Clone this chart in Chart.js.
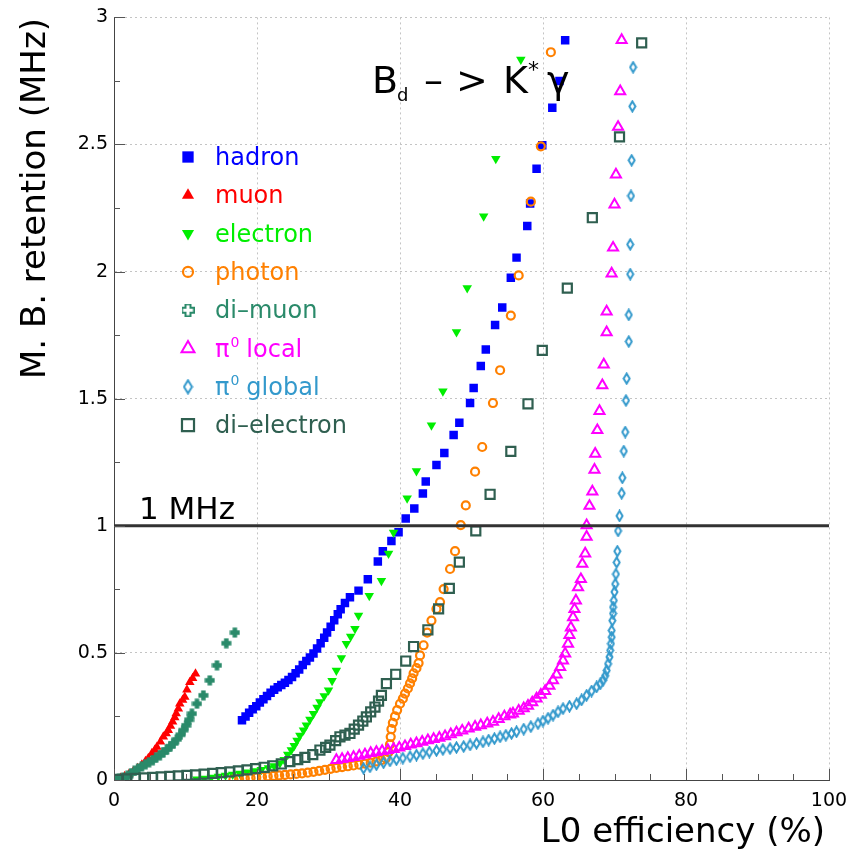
<!DOCTYPE html>
<html>
<head>
<meta charset="utf-8">
<script src="https://cdn.jsdelivr.net/npm/chart.js@4.4.1/dist/chart.umd.min.js"></script>
<style>html,body{margin:0;padding:0;background:#fff}</style>
</head>
<body>
<canvas id="c" width="864" height="857"></canvas>
<script>
// L0 efficiency (%) vs M.B. retention (MHz), pairs
const hadron = [[17.9,0.235],[18.4,0.25],[18.9,0.265],[19.4,0.278],[19.9,0.29],[20.4,0.305],[20.9,0.318],[21.4,0.33],[21.9,0.343],[22.4,0.355],[22.9,0.365],[23.4,0.374],[23.9,0.383],[24.4,0.393],[24.9,0.405],[25.4,0.42],[25.9,0.435],[26.4,0.452],[26.9,0.468],[27.4,0.482],[27.9,0.498],[28.4,0.517],[28.9,0.538],[29.4,0.56],[29.8,0.58],[30.3,0.603],[30.8,0.628],[31.3,0.652],[31.7,0.672],[32.3,0.696],[33.0,0.719],[34.2,0.745],[35.5,0.79],[36.9,0.86],[37.6,0.9],[38.8,0.94],[39.8,0.975],[40.8,1.029],[42.0,1.068],[43.2,1.127],[43.6,1.174],[45.1,1.239],[46.2,1.286],[47.5,1.357],[48.3,1.405],[49.8,1.483],[50.3,1.542],[51.3,1.629],[52.0,1.694],[53.3,1.79],[54.3,1.859],[55.5,1.976],[56.3,2.055],[57.8,2.179],[58.2,2.268],[59.1,2.405],[59.9,2.497],[61.3,2.645],[62.3,2.75],[63.1,2.91]];
const muon = [[0.3,0.002],[0.9,0.008],[1.5,0.015],[2.1,0.024],[2.7,0.034],[3.3,0.046],[3.9,0.06],[4.4,0.074],[4.8,0.086],[5.3,0.105],[5.7,0.118],[6.0,0.13],[6.5,0.15],[6.9,0.17],[7.3,0.183],[7.6,0.196],[7.9,0.212],[8.2,0.229],[8.5,0.246],[8.7,0.262],[9.0,0.28],[9.2,0.3],[9.6,0.315],[9.9,0.327],[10.2,0.355],[10.6,0.385],[11.0,0.4],[11.4,0.418]];
const electron = [[11.6,0.003],[12.6,0.006],[13.6,0.01],[14.6,0.014],[15.6,0.018],[16.6,0.022],[17.6,0.026],[18.6,0.03],[19.6,0.035],[20.6,0.04],[21.6,0.047],[22.4,0.055],[23.2,0.066],[23.8,0.08],[24.3,0.1],[24.8,0.118],[25.2,0.135],[25.6,0.155],[26.0,0.175],[26.5,0.196],[26.9,0.215],[27.4,0.238],[27.9,0.261],[28.4,0.285],[28.8,0.307],[29.4,0.33],[30.0,0.353],[30.5,0.39],[31.1,0.431],[31.8,0.48],[32.5,0.536],[33.1,0.565],[33.7,0.595],[34.2,0.647],[35.7,0.725],[37.4,0.784],[38.4,0.891],[39.1,0.974],[41.0,1.108],[42.3,1.216],[44.4,1.396],[46.0,1.529],[47.9,1.762],[49.4,1.935],[51.7,2.218],[53.4,2.444],[56.9,2.834]];
const photon = [[16.7,0.002],[17.5,0.004],[18.3,0.006],[19.1,0.008],[19.9,0.01],[20.7,0.012],[21.5,0.014],[22.3,0.016],[23.1,0.018],[23.9,0.02],[24.7,0.022],[25.5,0.024],[26.3,0.026],[27.1,0.029],[27.9,0.032],[28.7,0.036],[29.5,0.04],[30.3,0.044],[31.1,0.048],[31.9,0.051],[32.7,0.054],[33.5,0.057],[34.3,0.06],[35.1,0.064],[35.9,0.068],[36.7,0.073],[37.4,0.078],[38.0,0.085],[38.4,0.11],[38.6,0.14],[38.7,0.17],[38.8,0.2],[39.0,0.225],[39.3,0.25],[39.6,0.275],[40.0,0.3],[40.4,0.32],[40.7,0.34],[41.1,0.36],[41.4,0.38],[41.7,0.4],[41.9,0.42],[42.3,0.44],[42.6,0.46],[42.8,0.49],[43.3,0.53],[43.8,0.58],[44.4,0.627],[45.1,0.673],[45.6,0.7],[46.1,0.751],[47.0,0.83],[47.7,0.9],[48.5,1.003],[49.2,1.08],[50.5,1.213],[51.5,1.31],[53.0,1.483],[54.0,1.612],[55.5,1.827],[56.6,1.985],[58.3,2.275],[59.7,2.493],[61.1,2.863]];
const diMuon = [[0.2,0.002],[0.7,0.004],[1.3,0.008],[1.9,0.016],[2.4,0.026],[2.9,0.036],[3.4,0.045],[3.9,0.054],[4.4,0.062],[4.9,0.07],[5.4,0.078],[5.9,0.088],[6.4,0.098],[6.9,0.108],[7.4,0.12],[7.9,0.133],[8.3,0.144],[8.8,0.16],[9.3,0.178],[9.7,0.196],[10.1,0.215],[10.5,0.237],[10.9,0.261],[11.6,0.3],[12.5,0.333],[13.4,0.392],[14.4,0.451],[15.7,0.538],[16.9,0.58]];
const pi0Local = [[31.1,0.078],[31.9,0.082],[32.7,0.086],[33.5,0.09],[34.3,0.095],[35.1,0.1],[35.9,0.106],[36.7,0.11],[37.5,0.114],[38.3,0.118],[39.1,0.122],[39.9,0.127],[40.7,0.133],[41.5,0.139],[42.3,0.144],[43.1,0.15],[43.9,0.156],[44.7,0.161],[45.5,0.166],[46.3,0.172],[47.1,0.18],[47.9,0.187],[48.7,0.194],[49.6,0.202],[50.5,0.209],[51.3,0.215],[52.2,0.222],[53.0,0.229],[53.8,0.24],[54.6,0.25],[55.4,0.257],[55.8,0.261],[56.6,0.272],[57.3,0.282],[57.9,0.292],[58.5,0.305],[59.1,0.32],[59.7,0.335],[60.3,0.35],[60.9,0.37],[61.4,0.392],[61.9,0.415],[62.4,0.444],[62.8,0.47],[63.1,0.497],[63.5,0.536],[63.7,0.57],[63.9,0.6],[64.2,0.64],[64.4,0.672],[64.6,0.706],[64.9,0.758],[65.3,0.79],[65.5,0.85],[65.9,0.891],[66.1,0.957],[66.1,1.002],[66.5,1.078],[66.9,1.135],[67.2,1.22],[67.3,1.283],[67.6,1.376],[67.9,1.451],[68.3,1.553],[68.5,1.634],[68.9,1.761],[68.9,1.843],[69.6,1.992],[69.8,2.094],[70.0,2.264],[70.2,2.382],[70.5,2.569],[70.8,2.709],[71.0,2.911]];
const pi0Global = [[34.9,0.046],[35.8,0.052],[36.7,0.06],[37.7,0.068],[38.6,0.075],[39.5,0.08],[40.4,0.086],[41.4,0.092],[42.3,0.098],[43.2,0.104],[44.1,0.11],[45.1,0.116],[46.0,0.12],[47.0,0.124],[47.9,0.128],[48.9,0.132],[49.8,0.138],[50.7,0.144],[51.6,0.15],[52.4,0.157],[53.2,0.163],[54.0,0.17],[54.8,0.176],[55.6,0.183],[56.3,0.19],[57.3,0.2],[58.3,0.21],[59.3,0.222],[60.0,0.232],[60.7,0.243],[61.4,0.255],[62.1,0.268],[62.8,0.281],[63.7,0.29],[64.7,0.3],[65.4,0.315],[66.1,0.333],[66.8,0.35],[67.5,0.366],[68.0,0.378],[68.4,0.392],[68.7,0.41],[68.9,0.431],[69.1,0.457],[69.3,0.484],[69.4,0.51],[69.5,0.536],[69.6,0.562],[69.6,0.588],[69.7,0.627],[69.8,0.655],[69.8,0.68],[69.9,0.706],[70.0,0.74],[70.1,0.771],[70.2,0.81],[70.3,0.856],[70.4,0.9],[70.5,0.98],[70.7,1.039],[71.0,1.128],[71.1,1.189],[71.3,1.294],[71.5,1.369],[71.6,1.493],[71.7,1.579],[72.0,1.725],[72.0,1.83],[72.2,1.99],[72.2,2.107],[72.3,2.298],[72.4,2.438],[72.5,2.65],[72.6,2.804]];
const diElectron = [[0.6,0.002],[1.8,0.004],[3.0,0.006],[4.2,0.008],[5.4,0.01],[6.6,0.012],[7.8,0.014],[9.0,0.016],[10.2,0.018],[11.4,0.02],[12.6,0.023],[13.8,0.026],[15.0,0.029],[16.2,0.032],[17.4,0.036],[18.6,0.04],[19.8,0.045],[21.0,0.05],[22.2,0.056],[23.4,0.063],[24.6,0.072],[25.7,0.08],[26.7,0.089],[27.8,0.1],[28.8,0.118],[29.6,0.128],[30.2,0.137],[31.0,0.155],[31.6,0.17],[32.3,0.177],[33.0,0.183],[33.6,0.2],[34.2,0.216],[34.8,0.232],[35.3,0.248],[35.9,0.268],[36.5,0.287],[37.0,0.31],[37.4,0.333],[38.1,0.379],[39.4,0.416],[40.8,0.468],[41.9,0.525],[43.9,0.591],[45.4,0.673],[46.9,0.754],[48.3,0.857],[50.6,0.98],[52.6,1.124],[55.5,1.293],[57.9,1.48],[59.9,1.69],[63.4,1.935],[66.9,2.212],[70.7,2.53],[73.8,2.9]];

const seriesNames = ['hadron', 'muon', 'electron', 'photon', 'di\u2013muon', 'local', 'global', 'di\u2013electron'];
const xLabelValues = [0, 20, 40, 60, 80, 100];
const yLabelValues = [0, 0.5, 1, 1.5, 2, 2.5, 3];
const rateLimit = 1; // MHz

const FONT = '"DejaVu Sans", sans-serif';

function markerCanvas(w, h, draw) {
  const c = document.createElement('canvas');
  c.width = w; c.height = h;
  draw(c.getContext('2d'));
  return c;
}
const diamondImg = (col, w, h) => markerCanvas(w, h, g => {
  g.strokeStyle = col; g.lineWidth = 2;
  g.beginPath();
  g.moveTo(w / 2, 1.5); g.lineTo(w - 1.5, h / 2); g.lineTo(w / 2, h - 1.5); g.lineTo(1.5, h / 2);
  g.closePath(); g.stroke();
});
const plusImg = (col, s, t, open) => markerCanvas(s, s, g => {
  const a = (s - t) / 2, b = (s + t) / 2;
  g.beginPath();
  g.moveTo(a, 0.5); g.lineTo(b, 0.5); g.lineTo(b, a); g.lineTo(s - 0.5, a); g.lineTo(s - 0.5, b);
  g.lineTo(b, b); g.lineTo(b, s - 0.5); g.lineTo(a, s - 0.5); g.lineTo(a, b); g.lineTo(0.5, b);
  g.lineTo(0.5, a); g.lineTo(a, a); g.closePath();
  if (open) { g.strokeStyle = col; g.lineWidth = 2; g.stroke(); }
  else { g.fillStyle = col; g.fill(); }
});

const colors = ['#0000ff', '#ff0000', '#00ee00', '#ff8000', '#2a8a6a', '#ff00ff', '#3399cc', '#2f5f50'];
const seriesData = [hadron, muon, electron, photon, diMuon, pi0Local, pi0Global, diElectron];
const looks = [
  {style: 'rect', r: 6, bw: 0, fill: true, lr: 8},
  {style: 'triangle', r: 5.5, bw: 0, fill: true, lr: 7},
  {style: 'triangle', rot: 180, r: 5.5, bw: 0, fill: true, lr: 7},
  {style: 'circle', r: 4, bw: 2.2, fill: false, lr: 5},
  {style: plusImg(colors[4], 11, 4.5, false), r: 5, bw: 0, fill: true, legend: plusImg(colors[4], 13, 5, true)},
  {style: 'triangle', r: 5.8, bw: 2, fill: false, lr: 7.5},
  {style: diamondImg(colors[6], 9, 13), r: 5, bw: 0, fill: false, legend: diamondImg(colors[6], 11, 16)},
  {style: 'rect', r: 6.4, bw: 2.2, fill: false, lr: 8.5}
];

const datasets = seriesData.map((d, i) => ({
  label: seriesNames[i],
  data: d.map(p => ({x: p[0], y: p[1]})),
  showLine: false,
  pointStyle: looks[i].style,
  pointRotation: looks[i].rot || 0,
  pointRadius: looks[i].r,
  pointBorderWidth: looks[i].bw,
  pointBorderColor: colors[i],
  pointBackgroundColor: looks[i].fill ? colors[i] : 'rgba(0,0,0,0)',
  order: 7 - i
}));

function txt(ctx, s, x, y, size, color, align) {
  ctx.font = size + 'px ' + FONT;
  ctx.fillStyle = color;
  ctx.textAlign = align || 'left';
  ctx.textBaseline = 'alphabetic';
  ctx.fillText(s, x, y);
  return ctx.measureText(s).width;
}

const overlay = {
  id: 'overlay',
  afterDatasetsDraw(chart) {
    const {ctx, chartArea: a, scales: {y}} = chart;
    const py = y.getPixelForValue(rateLimit);
    ctx.save();
    ctx.strokeStyle = '#333'; ctx.lineWidth = 3;
    ctx.beginPath(); ctx.moveTo(a.left, py); ctx.lineTo(a.right, py); ctx.stroke();
    txt(ctx, '1 MHz', 139, py - 7, 31, '#000');
    ctx.restore();
  },
  afterDraw(chart) {
    const {ctx, chartArea: a, scales: {x, y}} = chart;
    ctx.save();
    // inward tick marks
    ctx.strokeStyle = '#555'; ctx.lineWidth = 1;
    x.ticks.forEach(t => {
      const px = Math.round(x.getPixelForValue(t.value)) + 0.5;
      const len = xLabelValues.includes(t.value) ? 11 : 6;
      ctx.beginPath(); ctx.moveTo(px, a.bottom); ctx.lineTo(px, a.bottom - len); ctx.stroke();
    });
    y.ticks.forEach(t => {
      const py = Math.round(y.getPixelForValue(t.value)) + 0.5;
      const len = yLabelValues.includes(t.value) ? 11 : 6;
      ctx.beginPath(); ctx.moveTo(a.left, py); ctx.lineTo(a.left + len, py); ctx.stroke();
    });
    // axis titles
    txt(ctx, 'L0 efficiency (%)', 825, 842, 34, '#000', 'right');
    ctx.save();
    ctx.translate(45, 18); ctx.rotate(-Math.PI / 2);
    txt(ctx, 'M. B. retention (MHz)', 0, 0, 34, '#000', 'right');
    ctx.restore();
    // decay label
    txt(ctx, 'B', 372, 93, 38, '#000');
    txt(ctx, 'd', 397, 101, 18, '#000');
    txt(ctx, '\u2013', 424, 93, 38, '#000');
    txt(ctx, '>', 456, 93, 38, '#000');
    txt(ctx, 'K', 503, 93, 38, '#000');
    txt(ctx, '*', 528, 77, 22, '#000');
    txt(ctx, '\u03b3', 547, 93, 38, '#000');
    // legend
    seriesNames.forEach((name, i) => {
      const cy = 157 + i * 38.3;
      const lk = looks[i];
      ctx.fillStyle = lk.fill ? colors[i] : 'rgba(0,0,0,0)';
      ctx.strokeStyle = colors[i];
      ctx.lineWidth = lk.bw;
      Chart.helpers.drawPoint(ctx, {
        pointStyle: lk.legend || lk.style, rotation: lk.rot || 0,
        radius: lk.lr || 6, borderWidth: lk.bw
      }, 188, cy);
      let tx = 215;
      if (i === 5 || i === 6) {
        tx += txt(ctx, '\u03c0', tx, cy + 8, 24, colors[i]);
        tx += txt(ctx, '0', tx + 1, cy - 2, 14, colors[i]) + 8;
      }
      txt(ctx, name, tx, cy + 8, 24, colors[i]);
    });
    ctx.restore();
  }
};

new Chart(document.getElementById('c'), {
  type: 'scatter',
  data: {datasets},
  options: {
    responsive: false,
    animation: false,
    events: [],
    layout: {padding: {top: 15, right: 35, left: 0, bottom: 0}},
    plugins: {legend: {display: false}, tooltip: {enabled: false}},
    scales: {
      x: {
        type: 'linear', min: 0, max: 100,
        afterFit: s => { s.height = 77; },
        ticks: {
          stepSize: 5, autoSkip: false, maxRotation: 0, padding: 10, color: '#000',
          font: {family: FONT, size: 19},
          callback: v => xLabelValues.includes(v) ? String(v) : ''
        },
        grid: {drawTicks: false, lineWidth: 1,
          color: c => (c.tick && xLabelValues.includes(c.tick.value)) ? '#c4c4c4' : 'rgba(0,0,0,0)'},
        border: {display: true, color: '#444', width: 1, dash: [2, 3]}
      },
      y: {
        type: 'linear', min: 0, max: 3,
        afterFit: s => { s.width = 114; },
        ticks: {
          stepSize: 0.25, autoSkip: false, padding: 6, color: '#000',
          font: {family: FONT, size: 19},
          callback: v => yLabelValues.includes(v) ? String(v) : ''
        },
        grid: {drawTicks: false, lineWidth: 1,
          color: c => (c.tick && yLabelValues.includes(c.tick.value)) ? '#c4c4c4' : 'rgba(0,0,0,0)'},
        border: {display: true, color: '#444', width: 1, dash: [2, 3]}
      }
    }
  },
  plugins: [overlay]
});
</script>
</body>
</html>
